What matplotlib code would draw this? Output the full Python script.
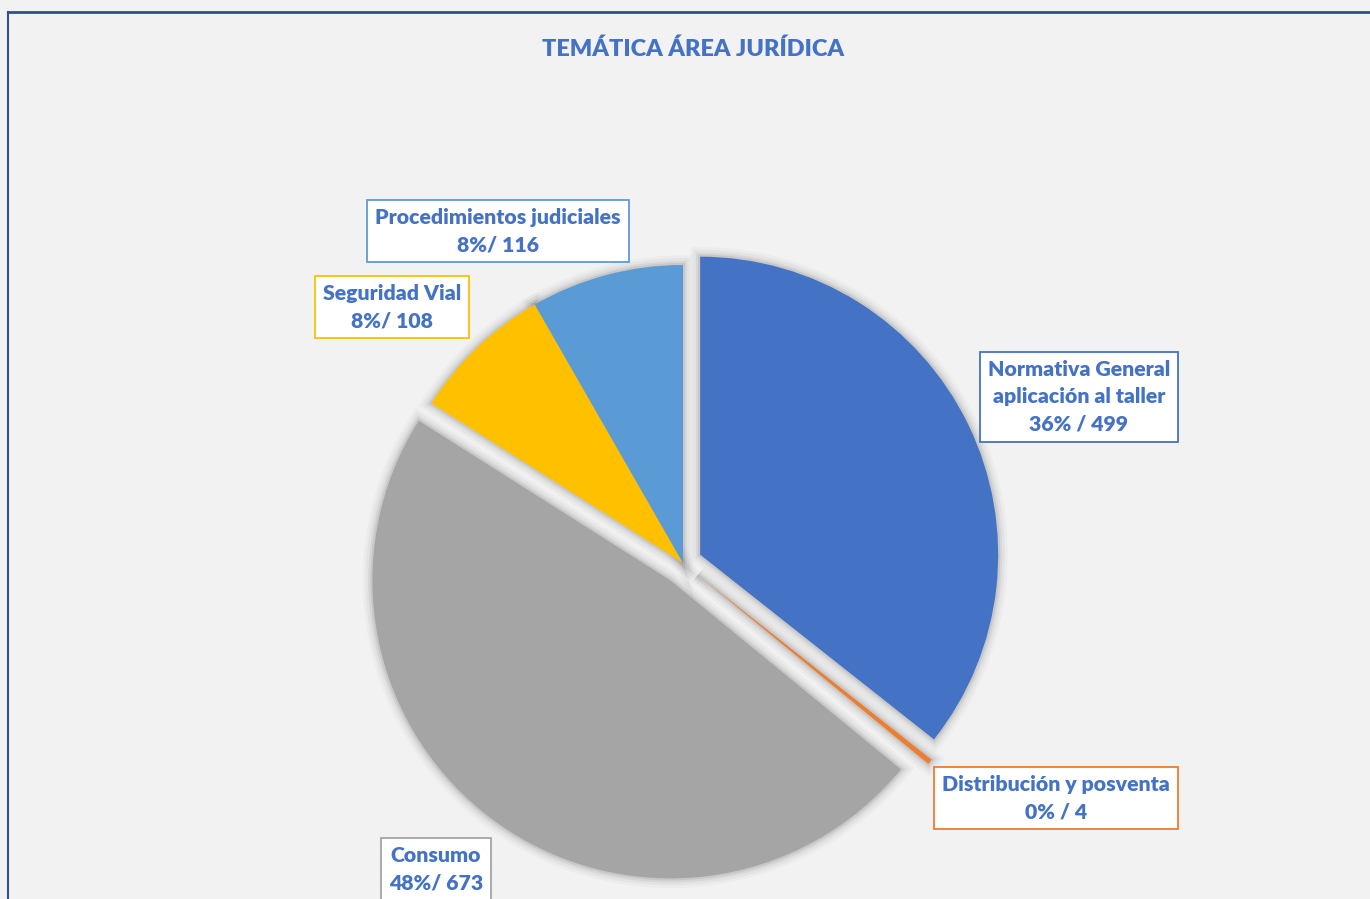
import numpy as np
import matplotlib.pyplot as plt
from matplotlib.patches import Wedge

plt.rcParams['font.family'] = ['Lato', 'DejaVu Sans']

# ----------------------------
# Data
# ----------------------------
categories = ["Normativa General\naplicación al taller", "Distribución y posventa",
              "Consumo", "Seguridad Vial", "Procedimientos judiciales"]
values = [499, 4, 673, 108, 116]
separators = [" / ", " / ", "/ ", "/ ", "/ "]
colors = ["#4472C4", "#ED7D31", "#A5A5A5", "#FFC000", "#5B9BD5"]
explode_frac = [0.064, 0.064, 0.072, 0.0, 0.0]

total = sum(values)
labels = [f"{c}\n{round(v / total * 100):.0f}%{s}{v}"
          for c, v, s in zip(categories, values, separators)]

# label box positions in pixels (from top-left)
label_pos = [(1079, 397), (1056, 798), (436, 869), (392, 307), (498, 231)]

W, H = 1370, 899
bg = "#F2F2F2"
txt_color = "#4472C4"

fig = plt.figure(figsize=(W / 100, H / 100), dpi=100, facecolor=bg)
ax = fig.add_axes([0, 0, 1, 1])
ax.set_facecolor(bg)

cx, cy, R = 683, H - 563, 298

# pie explode is in data units, so scale by radius
wedges, _ = ax.pie(values, colors=colors, explode=[e * R for e in explode_frac],
                   startangle=90, counterclock=False, center=(cx, cy), radius=R,
                   wedgeprops=dict(linewidth=0, zorder=3))

# soft shadow around each slice
for w in wedges:
    for lw, a in [(14, 0.025), (10, 0.035), (6, 0.05), (3, 0.07)]:
        sh = Wedge(w.center, w.r, w.theta1, w.theta2, facecolor="none",
                   edgecolor="#000000", linewidth=lw, alpha=a, zorder=2)
        ax.add_patch(sh)

ax.set_xlim(0, W)
ax.set_ylim(0, H)
ax.set_aspect('equal')
ax.axis('off')

# labels
for lab, (x, y), col in zip(labels, label_pos, colors):
    ax.text(x, H - y, lab, ha="center", va="center", fontsize=15.3,
            fontweight="heavy", color=txt_color, linespacing=1.52, zorder=5,
            bbox=dict(boxstyle="square,pad=0.38", facecolor="white",
                      edgecolor=col, linewidth=1.3))

# title
ax.text(693, H - 49, "TEMÁTICA ÁREA JURÍDICA", ha="center", va="center",
        fontsize=16.9, fontweight="heavy", color=txt_color)

# frame lines (top and left)
ax.plot([8, W], [H - 12, H - 12], color="#2F528F", linewidth=2, zorder=6)
ax.plot([8, 8], [0, H - 12], color="#2F528F", linewidth=1.5, zorder=6)

plt.savefig("out.png", dpi=100, facecolor=bg)
